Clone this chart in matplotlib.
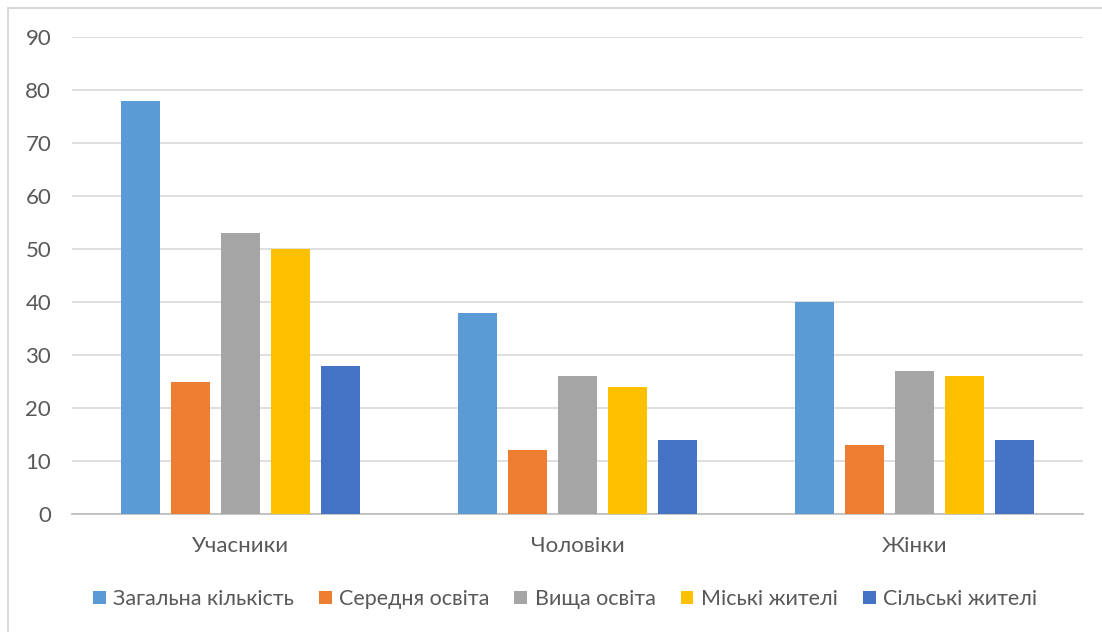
import numpy as np
import matplotlib.pyplot as plt
from matplotlib.patches import Rectangle

# %% data
groups = ['Учасники', 'Чоловіки', 'Жінки']
series = ['Загальна кількість', 'Середня освіта', 'Вища освіта', 'Міські жителі', 'Сільські жителі']
values = {
    'Загальна кількість': [78, 38, 40],
    'Середня освіта': [25, 12, 13],
    'Вища освіта': [53, 26, 27],
    'Міські жителі': [50, 24, 26],
    'Сільські жителі': [28, 14, 14],
}
colors = ['#5B9BD5', '#ED7D31', '#A5A5A5', '#FFC000', '#4472C4']

plt.rcParams['font.family'] = ['Lato', 'DejaVu Sans']
text_color = '#595959'

# %% plot
W, H = 1102, 632
fig = plt.figure(figsize=(W / 100, H / 100), dpi=100)
ax = fig.add_axes([72 / W, 1 - 514 / H, (1083 - 72) / W, (514 - 37) / H])

x = np.arange(len(groups))
step = 50 / 337
width = 39 / 337
for i, name in enumerate(series):
    ax.bar(x + (i - 2) * step, values[name], width, color=colors[i], label=name, zorder=3)

ax.set_xlim(-0.5, 2.5)
ax.set_ylim(0, 90)
ax.set_yticks(range(0, 91, 10))
ax.set_xticks(x)
ax.set_xticklabels(groups)
ax.grid(axis='y', color='#D9D9D9', linewidth=1.2, zorder=0)
for s in ['top', 'right', 'left']:
    ax.spines[s].set_visible(False)
ax.spines['bottom'].set_color('#BFBFBF')
ax.spines['bottom'].set_linewidth(1.3)
ax.tick_params(axis='both', length=0, labelsize=16, colors=text_color)
ax.tick_params(axis='y', pad=15)
ax.tick_params(axis='x', pad=16)

leg = fig.legend(loc='center', bbox_to_anchor=(565 / W, 1 - 599 / H), ncol=5, frameon=False,
                 fontsize=15.5, handlelength=0.6, handleheight=0.6, handletextpad=0.35,
                 columnspacing=1.15)
for t in leg.get_texts():
    t.set_color(text_color)

# outer chart frame
fig.patches.append(Rectangle((8 / W, -0.1), 1.2, 1 - 8 / H + 0.1, transform=fig.transFigure,
                             fill=False, edgecolor='#D9D9D9', linewidth=1.5))

plt.savefig('out.png', dpi=100)
plt.close()
